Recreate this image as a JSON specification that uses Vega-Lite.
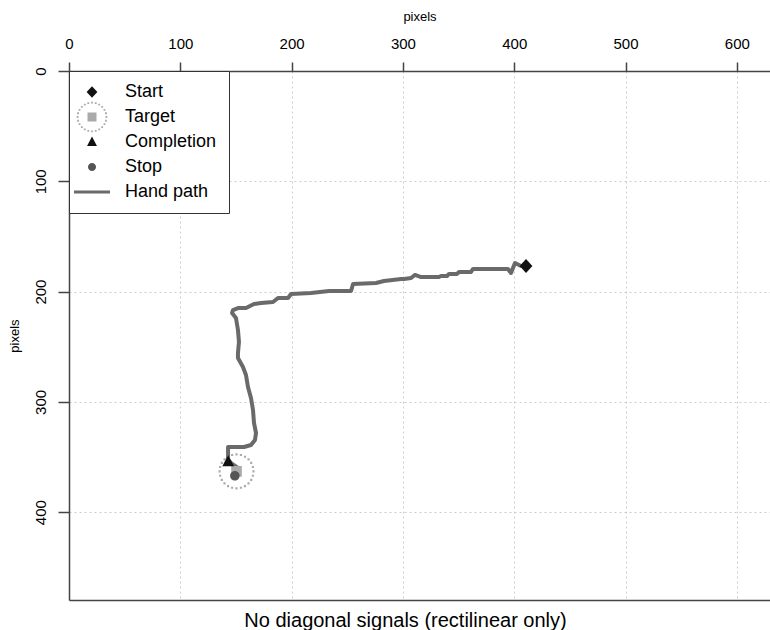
{
  "$schema": "https://vega.github.io/schema/vega-lite/v6.json",
  "width": 701,
  "height": 529,
  "autosize": "none",
  "padding": {"left": 69, "top": 71, "right": 0, "bottom": 30},
  "background": "white",
  "config": {"view": {"stroke": null}, "font": "Liberation Sans"},
  "datasets": {
    "path": [
      {"i": 1, "x": 406.1, "y": 176.8},
      {"i": 2, "x": 400.7, "y": 174.1},
      {"i": 3, "x": 397.1, "y": 183.1},
      {"i": 4, "x": 394.4, "y": 179.5},
      {"i": 5, "x": 363.0, "y": 179.5},
      {"i": 6, "x": 361.2, "y": 182.2},
      {"i": 7, "x": 350.4, "y": 182.2},
      {"i": 8, "x": 348.6, "y": 184.0},
      {"i": 9, "x": 341.4, "y": 184.0},
      {"i": 10, "x": 339.6, "y": 185.9},
      {"i": 11, "x": 334.2, "y": 185.9},
      {"i": 12, "x": 332.4, "y": 186.8},
      {"i": 13, "x": 316.3, "y": 186.8},
      {"i": 14, "x": 310.9, "y": 184.9},
      {"i": 15, "x": 307.3, "y": 187.7},
      {"i": 16, "x": 301.0, "y": 188.6},
      {"i": 17, "x": 298.3, "y": 188.6},
      {"i": 18, "x": 283.0, "y": 190.4},
      {"i": 19, "x": 275.8, "y": 192.2},
      {"i": 20, "x": 255.2, "y": 193.1},
      {"i": 21, "x": 253.4, "y": 199.5},
      {"i": 22, "x": 233.6, "y": 199.5},
      {"i": 23, "x": 217.4, "y": 201.3},
      {"i": 24, "x": 199.5, "y": 202.2},
      {"i": 25, "x": 196.8, "y": 205.8},
      {"i": 26, "x": 187.8, "y": 205.8},
      {"i": 27, "x": 183.3, "y": 209.4},
      {"i": 28, "x": 172.5, "y": 210.3},
      {"i": 29, "x": 166.2, "y": 211.2},
      {"i": 30, "x": 159.0, "y": 214.9},
      {"i": 31, "x": 151.8, "y": 214.9},
      {"i": 32, "x": 147.3, "y": 216.7},
      {"i": 33, "x": 146.5, "y": 219.4},
      {"i": 34, "x": 150.0, "y": 223.9},
      {"i": 35, "x": 151.8, "y": 234.8},
      {"i": 36, "x": 152.7, "y": 245.7},
      {"i": 37, "x": 151.8, "y": 255.7},
      {"i": 38, "x": 151.8, "y": 260.2},
      {"i": 39, "x": 156.3, "y": 268.4},
      {"i": 40, "x": 159.0, "y": 275.6},
      {"i": 41, "x": 160.8, "y": 286.5},
      {"i": 42, "x": 163.5, "y": 296.5},
      {"i": 43, "x": 165.3, "y": 307.3},
      {"i": 44, "x": 166.2, "y": 319.1},
      {"i": 45, "x": 168.0, "y": 328.2},
      {"i": 46, "x": 167.1, "y": 334.5},
      {"i": 47, "x": 163.5, "y": 339.1},
      {"i": 48, "x": 157.2, "y": 340.9},
      {"i": 49, "x": 142.9, "y": 340.9},
      {"i": 50, "x": 142.9, "y": 352.7},
      {"i": 51, "x": 145.6, "y": 355.4},
      {"i": 52, "x": 151.8, "y": 359.9},
      {"i": 53, "x": 149.1, "y": 367.2}
    ],
    "markers": [
      {"series": "Target", "x": 150.5, "y": 363},
      {"series": "Completion", "x": 143, "y": 354},
      {"series": "Stop", "x": 149, "y": 367},
      {"series": "Start", "x": 410.6, "y": 176.8}
    ]
  },
  "layer": [
    {
      "data": {"name": "path"},
      "mark": {"type": "line", "color": "#6a6a6a", "strokeWidth": 4, "strokeCap": "round", "strokeJoin": "round", "clip": true},
      "encoding": {
        "x": {
          "field": "x", "type": "quantitative",
          "scale": {"domain": [0, 629.8], "nice": false, "zero": false},
          "axis": {
            "orient": "top", "values": [0, 100, 200, 300, 400, 500, 600],
            "tickSize": 9, "tickColor": "#444", "tickWidth": 1.5,
            "domainColor": "#444", "domainWidth": 1.5,
            "labelFontSize": 15, "labelColor": "black", "labelPadding": 11,
            "labelFlush": false, "labelOverlap": false,
            "grid": true, "gridColor": "#cccccc", "gridDash": [2, 3], "gridWidth": 1,
            "title": "pixels", "titleFontSize": 13, "titleFontWeight": "normal", "titleColor": "black", "titlePadding": 13
          }
        },
        "y": {
          "field": "y", "type": "quantitative",
          "scale": {"domain": [0, 479.6], "nice": false, "zero": false, "reverse": true},
          "axis": {
            "orient": "left", "values": [0, 100, 200, 300, 400],
            "tickSize": 11, "tickColor": "#444", "tickWidth": 1.5,
            "domainColor": "#444", "domainWidth": 1.5,
            "labelFontSize": 15, "labelColor": "black", "labelPadding": 10,
            "labelAngle": 270, "labelAlign": "center", "labelBaseline": "bottom",
            "labelFlush": false, "labelOverlap": false,
            "grid": true, "gridColor": "#cccccc", "gridDash": [2, 3], "gridWidth": 1,
            "title": "pixels", "titleFontSize": 13, "titleFontWeight": "normal", "titleColor": "black", "titlePadding": 12
          }
        },
        "order": {"field": "i", "type": "quantitative"}
      }
    },
    {
      "data": {"name": "markers"},
      "mark": {"type": "point", "filled": true, "size": 450, "opacity": 1, "strokeWidth": 0},
      "encoding": {
        "x": {
          "field": "x", "type": "quantitative",
          "axis": {
            "orient": "bottom", "ticks": false, "labels": false, "grid": false,
            "domainColor": "#444", "domainWidth": 1.5,
            "title": "No diagonal signals (rectilinear only)", "titleFontSize": 20, "titleFontWeight": "normal", "titleColor": "black",
            "titleX": 336, "titleY": 20, "titleAlign": "center", "titleBaseline": "middle"
          }
        },
        "y": {"field": "y", "type": "quantitative", "axis": null},
        "shape": {
          "field": "series", "type": "nominal",
          "scale": {
            "domain": ["Start", "Target", "Completion", "Stop", "Hand path"],
            "range": [
              "M0,-0.65L0.6,0L0,0.65L-0.6,0Z",
              "M-0.5,-0.5H0.5V0.5H-0.5ZM1.5,-0.1h0.2v0.2h-0.2ZM1.445,0.314h0.2v0.2h-0.2ZM1.286,0.7h0.2v0.2h-0.2ZM1.031,1.031h0.2v0.2h-0.2ZM0.7,1.286h0.2v0.2h-0.2ZM0.314,1.445h0.2v0.2h-0.2ZM-0.1,1.5h0.2v0.2h-0.2ZM-0.514,1.445h0.2v0.2h-0.2ZM-0.9,1.286h0.2v0.2h-0.2ZM-1.231,1.031h0.2v0.2h-0.2ZM-1.486,0.7h0.2v0.2h-0.2ZM-1.645,0.314h0.2v0.2h-0.2ZM-1.7,-0.1h0.2v0.2h-0.2ZM-1.645,-0.514h0.2v0.2h-0.2ZM-1.486,-0.9h0.2v0.2h-0.2ZM-1.231,-1.231h0.2v0.2h-0.2ZM-0.9,-1.486h0.2v0.2h-0.2ZM-0.514,-1.645h0.2v0.2h-0.2ZM-0.1,-1.7h0.2v0.2h-0.2ZM0.314,-1.645h0.2v0.2h-0.2ZM0.7,-1.486h0.2v0.2h-0.2ZM1.031,-1.231h0.2v0.2h-0.2ZM1.286,-0.9h0.2v0.2h-0.2ZM1.445,-0.514h0.2v0.2h-0.2Z",
              "M0,-0.6L0.55,0.45H-0.55Z",
              "M0.45,0A0.45,0.45 0 1,1 -0.45,0A0.45,0.45 0 1,1 0.45,0Z",
              "M-2,-0.18H2V0.18H-2Z"
            ]
          },
          "legend": {
            "title": null, "orient": "top-left", "offset": 0, "padding": 12,
            "strokeColor": "#333", "fillColor": "white",
            "labelFontSize": 18, "labelFont": "Liberation Sans", "labelColor": "black",
            "symbolSize": 324, "symbolOffset": 2, "labelOffset": 24, "rowPadding": -11, "gridAlign": "all",
            "symbolStrokeWidth": 0, "symbolOpacity": 1
          }
        },
        "color": {
          "field": "series", "type": "nominal",
          "scale": {
            "domain": ["Start", "Target", "Completion", "Stop", "Hand path"],
            "range": ["#111111", "#aaaaaa", "#111111", "#555555", "#6a6a6a"]
          },
          "legend": {
            "title": null, "orient": "top-left", "offset": 0, "padding": 12,
            "strokeColor": "#333", "fillColor": "white",
            "labelFontSize": 18, "labelFont": "Liberation Sans", "labelColor": "black",
            "symbolSize": 324, "symbolOffset": 2, "labelOffset": 24, "rowPadding": -11, "gridAlign": "all",
            "symbolStrokeWidth": 0, "symbolOpacity": 1
          }
        }
      }
    }
  ],
  "resolve": {"axis": {"x": "independent", "y": "independent"}}
}
